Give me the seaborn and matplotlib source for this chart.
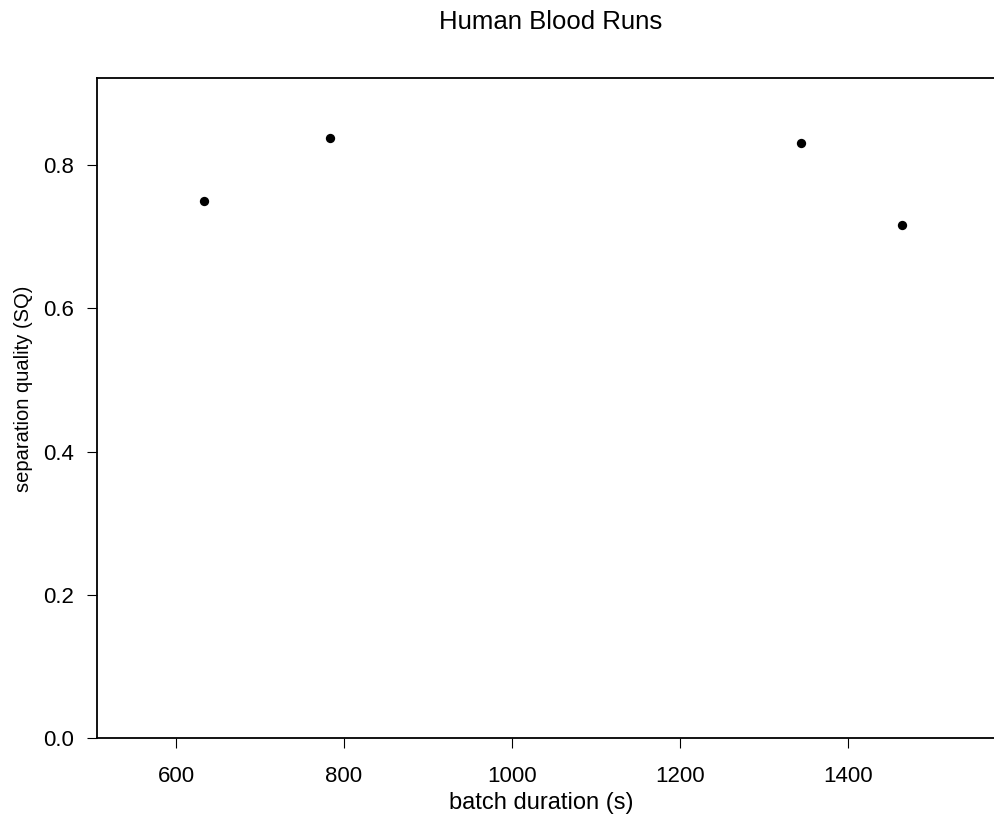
import matplotlib
matplotlib.use("Agg")
import matplotlib.pyplot as plt
import seaborn as sns
import pandas as pd

# Human blood runs: batch duration vs separation quality
batch_duration = [633, 783, 1344, 1465]
separation_quality = [0.750, 0.838, 0.831, 0.716]
x_ticks = [600, 800, 1000, 1200, 1400]
y_ticks = [0.0, 0.2, 0.4, 0.6, 0.8]

df = pd.DataFrame({"batch duration (s)": batch_duration,
                   "separation quality (SQ)": separation_quality})

sns.set_theme(style="white")
plt.rcParams["font.family"] = ["Liberation Sans", "DejaVu Sans"]

fig = plt.figure(figsize=(9.94, 8.27), dpi=100)
ax = fig.add_axes([97 / 994, 1 - 738 / 827, (994 - 97) / 994, (738 - 78) / 827])

sns.scatterplot(data=df, x="batch duration (s)", y="separation quality (SQ)",
                ax=ax, color="black", s=45, edgecolor="black", linewidth=0)

ax.set_xlim(506, 1574)
ax.set_ylim(0, 0.922)
ax.set_xticks(x_ticks)
ax.set_xticklabels([str(t) for t in x_ticks])
ax.set_yticks(y_ticks)
ax.set_yticklabels([f"{t:.1f}" for t in y_ticks])

for side in ["left", "top", "bottom"]:
    ax.spines[side].set_visible(True)
    ax.spines[side].set_color("black")
    ax.spines[side].set_linewidth(1.3)
ax.spines["right"].set_visible(False)

ax.tick_params(axis="both", which="both", bottom=True, left=True, top=False, right=False,
               direction="out", length=7.2, width=0.8, color="black",
               labelsize=16, labelcolor="black")
ax.tick_params(axis="x", pad=13)
ax.tick_params(axis="y", pad=9)

ax.set_xlabel("batch duration (s)", fontsize=17, color="black")
ax.set_ylabel("separation quality (SQ)", fontsize=14.5, color="black")
ax.xaxis.set_label_coords((541 - 97) / 897, (738 - 792) / 660)
ax.yaxis.set_label_coords((33 - 97) / 897, (738 - 389) / 660)

fig.text(551 / 994, 1 - 22 / 827, "Human Blood Runs", ha="center", va="center",
         fontsize=18.5, color="black")

fig.savefig("out.png", dpi=100, facecolor="white")
